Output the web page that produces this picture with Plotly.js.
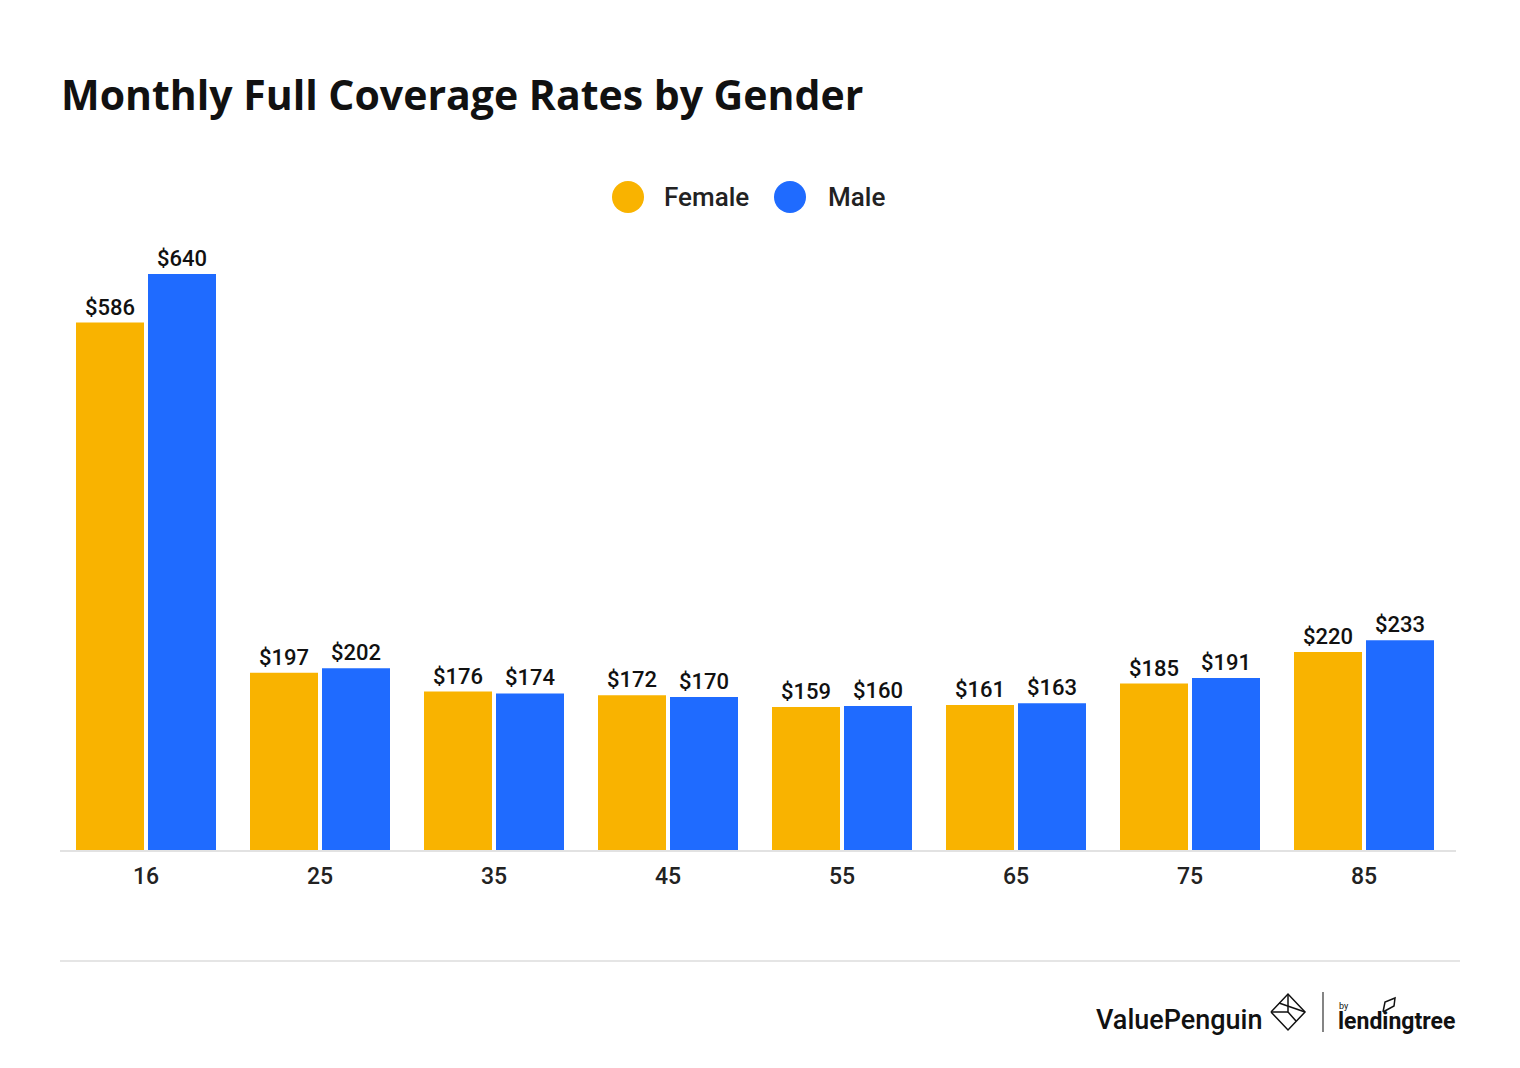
<!DOCTYPE html>
<html>
<head>
<meta charset="utf-8">
<script src="https://cdn.plot.ly/plotly-3.0.1.min.js"></script>
<style>html,body{margin:0;padding:0;background:#fff;}#chart{width:1520px;height:1068px;}</style>
</head>
<body>
<div id="chart"></div>
<script>
const ages = ["16", "25", "35", "45", "55", "65", "75", "85"];
const female = [586, 197, 176, 172, 159, 161, 185, 220];
const male = [640, 202, 174, 170, 160, 163, 191, 233];
const seriesNames = ["Female", "Male"];
const colors = ["#F9B300", "#1F6BFF"];

const W = 1520, H = 1068;
const ml = 59, mr = 69, mt = 220, mb = 218;
const pw = W - ml - mr, ph = H - mt - mb;
const px = x => (x - ml) / pw;
const py = y => (H - mb - y) / ph;

const fmt = v => "$" + v;
const textFont = {family: "Roboto, sans-serif", size: 22, color: "#111", weight: 500};

const traces = [
  {type: "bar", name: seriesNames[0], x: ages, y: female, marker: {color: colors[0]},
   text: female.map(fmt), textposition: "outside", textfont: textFont, cliponaxis: false,
   hoverinfo: "skip", showlegend: false},
  {type: "bar", name: seriesNames[1], x: ages, y: male, marker: {color: colors[1]},
   text: male.map(fmt), textposition: "outside", textfont: textFont, cliponaxis: false,
   hoverinfo: "skip", showlegend: false}
];

function circ(cx, cy, r, color) {
  return {type: "circle", xref: "paper", yref: "paper", xsizemode: "pixel", ysizemode: "pixel",
    xanchor: px(cx), yanchor: py(cy), x0: -r, x1: r, y0: -r, y1: r,
    fillcolor: color, line: {width: 0}};
}
function line(x0, y0, x1, y1, color, w) {
  return {type: "line", xref: "paper", yref: "paper", x0: px(x0), y0: py(y0), x1: px(x1), y1: py(y1),
    line: {color: color, width: w}};
}
function path(pts, color, w) {
  const d = pts.map((p, i) => (i ? "L" : "M") + px(p[0]) + "," + py(p[1])).join(" ");
  return {type: "path", xref: "paper", yref: "paper", path: d, line: {color: color, width: w}};
}
function ann(x, y, text, font, opts) {
  return Object.assign({xref: "paper", yref: "paper", x: px(x), y: py(y), text: text, showarrow: false,
    xanchor: "left", yanchor: "middle", font: font}, opts || {});
}

const layout = {
  width: W, height: H,
  paper_bgcolor: "#fff", plot_bgcolor: "#fff",
  margin: {l: ml, r: mr, t: mt, b: mb},
  title: {text: "<b>Monthly Full Coverage Rates by Gender</b>", x: 61 / W, xanchor: "left", xref: "container",
    y: 1 - 96 / H, yanchor: "middle", yref: "container",
    font: {family: "Open Sans, sans-serif", size: 41, color: "#111"}},
  barmode: "group", bargap: 30 / 174, bargroupgap: 4 / 72,
  showlegend: false,
  xaxis: {type: "category", tickfont: {family: "Roboto, sans-serif", size: 23, color: "#222", weight: 500},
    showgrid: false, zeroline: false, showline: false, ticks: "", ticklen: 0, ticklabelstandoff: 10},
  yaxis: {range: [0, 700], visible: false, showgrid: false, zeroline: false},
  shapes: [
    line(60, 851, 1456, 851, "#e2e2e2", 2),
    line(60, 961, 1460, 961, "#dcdcdc", 1.5),
    circ(628, 197, 16, colors[0]),
    circ(790, 197, 16, colors[1]),
    // ValuePenguin icon
    path([[1271, 1012], [1288, 994], [1305, 1012], [1288, 1030], [1271, 1012]], "#111", 1.5),
    path([[1279, 1003], [1305, 1012]], "#111", 1.5),
    path([[1288, 994], [1288, 1012], [1296, 1021]], "#111", 1.5),
    path([[1271, 1012], [1288, 1012]], "#111", 1.5),
    line(1323, 992, 1323, 1032, "#333", 1.2),
    // leaf
    path([[1383, 1012], [1385, 1002], [1395, 998], [1394, 1006], [1383, 1012]], "#111", 1.5)
  ],
  annotations: [
    ann(662, 197, "Female", {family: "Roboto, sans-serif", size: 26, color: "#222", weight: 500}),
    ann(826, 197, "Male", {family: "Roboto, sans-serif", size: 26, color: "#222", weight: 500}),
    ann(1094, 1020, "ValuePenguin", {family: "Roboto, sans-serif", size: 27, color: "#111", weight: 500}),
    ann(1337, 1006, "by", {family: "Roboto, sans-serif", size: 9, color: "#111"}),
    ann(1336, 1021, "<b>lendingtree</b>", {family: "Roboto, sans-serif", size: 23, color: "#111"})
  ]
};

Plotly.newPlot("chart", traces, layout, {displayModeBar: false, staticPlot: true});
</script>
</body>
</html>
